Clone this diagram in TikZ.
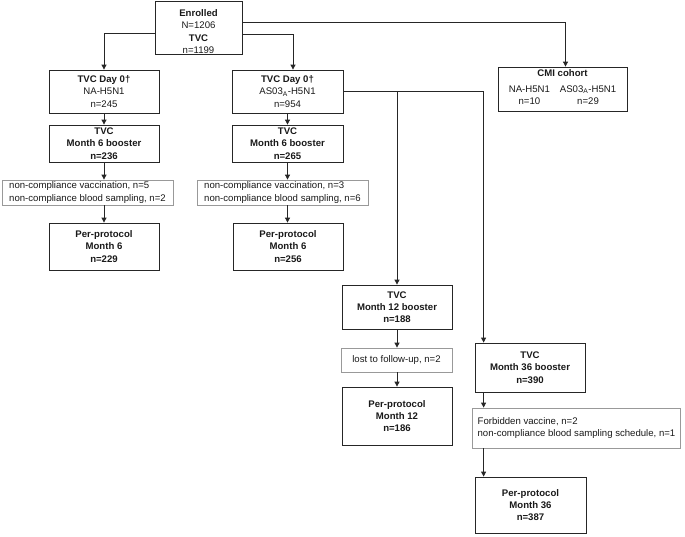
\documentclass[tikz,border=0pt]{standalone}
\usepackage{fontspec}
\setmainfont{Liberation Sans}
\usetikzlibrary{arrows.meta}
\newcommand{\diagfont}{\fontsize{9.6}{12.3}\selectfont}
\tikzset{
	box/.style={draw=black!85, line width=0.8pt, align=center, inner sep=1pt, text=black!90, font=\diagfont},
	boldbox/.style={box, font=\diagfont\bfseries},
	exbox/.style={draw=black!40, line width=0.8pt, align=left, inner xsep=5pt, inner ysep=1pt, text=black!90, font=\diagfont},
	arr/.style={draw=black!85, line width=0.8pt, -{Triangle[length=5pt,width=5pt]}},
}

\begin{document}
\begin{tikzpicture}[x=1pt, y=-1pt]
		%%%%% START %%%%%
		\useasboundingbox (0, 0) rectangle (685, 536);
		
		\node[box, minimum width=87pt, minimum height=53pt, inner ysep=0pt] (enr) at (198.5, 27.5) {\rule{0pt}{15pt}\textbf{Enrolled}\\N=1206\\\textbf{TVC}\\n=1199};
		
		\node[box, minimum width=110pt, minimum height=43pt] (na0) at (104, 91.5) {\textbf{TVC Day 0\textdagger}\\NA-H5N1\\n=245};
		\node[box, minimum width=111pt, minimum height=43pt] (as0) at (287.5, 91.5) {\textbf{TVC Day 0\textdagger}\\AS03\textsubscript{A}-H5N1\\n=954};
		\node[box, minimum width=129pt, minimum height=44pt] (cmi) at (562.5, 89) {\textbf{CMI cohort}\\[3pt]\begin{tabular}[t]{@{}c@{\hspace{10pt}}c@{}}NA-H5N1 & AS03\textsubscript{A}-H5N1\\ n=10 & n=29\end{tabular}};
		
		\node[boldbox, minimum width=110pt, minimum height=37pt] (na6) at (104, 143.5) {TVC\\Month 6 booster\\n=236};
		\node[boldbox, minimum width=111pt, minimum height=37pt] (as6) at (287.5, 143.5) {TVC\\Month 6 booster\\n=265};
		
		\node[exbox, minimum width=171pt, minimum height=25pt] (naex) at (87.5, 192.5) {non-compliance vaccination, n=5\\non-compliance blood sampling, n=2};
		\node[exbox, minimum width=171pt, minimum height=25pt] (asex) at (282.5, 192.5) {non-compliance vaccination, n=3\\non-compliance blood sampling, n=6};
		
		\node[boldbox, minimum width=110pt, minimum height=47pt] (napp) at (104, 246.5) {Per-protocol\\Month 6\\n=229};
		\node[boldbox, minimum width=110pt, minimum height=47pt] (aspp) at (288, 246.5) {Per-protocol\\Month 6\\n=256};
		
		\node[boldbox, minimum width=110pt, minimum height=44pt] (as12) at (397, 307) {TVC\\Month 12 booster\\n=188};
		\node[exbox, minimum width=111pt, minimum height=24pt] (ex12) at (396.5, 360) {lost to follow-up, n=2};
		\node[boldbox, minimum width=110pt, minimum height=58pt] (pp12) at (397, 416) {Per-protocol\\Month 12\\n=186};
		
		\node[boldbox, minimum width=110pt, minimum height=49pt] (as36) at (530, 367.5) {TVC\\Month 36 booster\\n=390};
		\node[exbox, minimum width=207pt, minimum height=40pt] (ex36) at (576.5, 428) {Forbidden vaccine, n=2\\non-compliance blood sampling schedule, n=1};
		\node[boldbox, minimum width=111pt, minimum height=56pt] (pp36) at (530.5, 505) {Per-protocol\\Month 36\\n=387};
		
		% from enrolment
		\draw[arr] ([yshift=-5.5pt]enr.west) -| (na0.north);
		\draw[arr] ([yshift=-6.5pt]enr.east) -| ([xshift=5.5pt]as0.north);
		\draw[arr] ([yshift=5.5pt]enr.east) -| ([xshift=3pt]cmi.north);
		
		% NA column
		\draw[arr] (na0.south) -- (na6.north);
		\draw[arr] (na6.south) -- (na6.south |- naex.north);
		\draw[arr] (na6.south |- naex.south) -- (napp.north);
		
		% AS03 column
		\draw[arr] (as0.south) -- (as6.north);
		\draw[arr] (as6.south) -- (as6.south |- asex.north);
		\draw[arr] (as6.south |- asex.south) -- (as6.south |- aspp.north);
		
		% later boosters
		\coordinate (j36) at ([xshift=9pt]as36.north west);
		\draw[arr] (as0.east) -| (j36);
		\draw[arr] (as0.east -| as12.north) -- (as12.north);
		\draw[arr] (as12.south) -- (as12.south |- ex12.north);
		\draw[arr] (as12.south |- ex12.south) -- (pp12.north);
		\draw[arr] (j36 |- as36.south) -- (j36 |- ex36.north);
		\draw[arr] (j36 |- ex36.south) -- (j36 |- pp36.north);
		
		%%%%% END %%%%%
	\end{tikzpicture}
\end{document}
